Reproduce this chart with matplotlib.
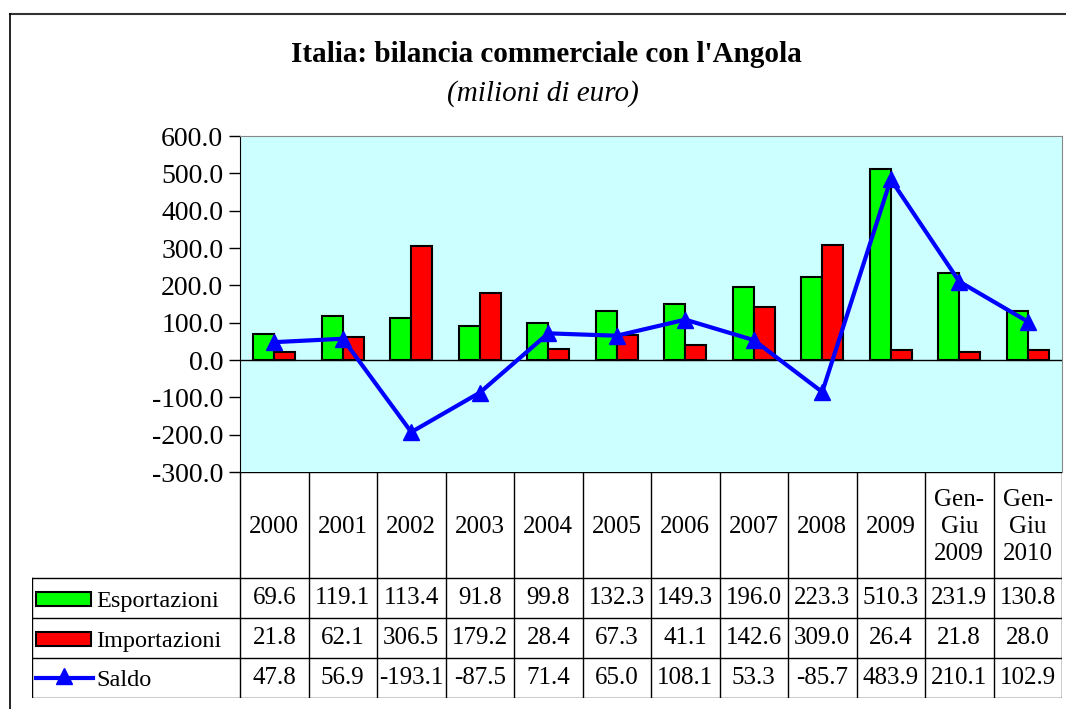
import numpy as np
import matplotlib.pyplot as plt
from matplotlib.lines import Line2D
from matplotlib.patches import Rectangle

plt.rcParams['font.family'] = ['Liberation Serif', 'DejaVu Serif']

# dati
periodi = ['2000', '2001', '2002', '2003', '2004', '2005', '2006', '2007', '2008', '2009',
           'Gen-\nGiu\n2009', 'Gen-\nGiu\n2010']
esportazioni = [69.6, 119.1, 113.4, 91.8, 99.8, 132.3, 149.3, 196.0, 223.3, 510.3, 231.9, 130.8]
importazioni = [21.8, 62.1, 306.5, 179.2, 28.4, 67.3, 41.1, 142.6, 309.0, 26.4, 21.8, 28.0]
saldo = [47.8, 56.9, -193.1, -87.5, 71.4, 65.0, 108.1, 53.3, -85.7, 483.9, 210.1, 102.9]

W, H = 1066, 709
fig = plt.figure(figsize=(W / 100, H / 100), dpi=100)

# cornice esterna (solo lati superiore e sinistro visibili)
fig.add_artist(Line2D([10 / W, 1], [1 - 14 / H, 1 - 14 / H], color='#333333', lw=1.5))
fig.add_artist(Line2D([10 / W, 10 / W], [0, 1 - 14 / H], color='black', lw=1.2))

fig.text(546 / W, 1 - 54 / H, "Italia: bilancia commerciale con l'Angola",
         ha='center', va='center', fontsize=21, fontweight='bold')
fig.text(543 / W, 1 - 94 / H, "(milioni di euro)", ha='center', va='center',
         fontsize=21, style='italic')

# grafico
x0, x1, y0, y1 = 240, 1062, 136, 472
ax = fig.add_axes([x0 / W, 1 - y1 / H, (x1 - x0) / W, (y1 - y0) / H])
ax.set_facecolor('#CCFFFF')
n = len(periodi)
x = np.arange(n)
bw = 0.31
ax.bar(x - bw / 2, esportazioni, bw, color='#00FF00', edgecolor='black', linewidth=1.5, zorder=2)
ax.bar(x + bw / 2, importazioni, bw, color='#FF0000', edgecolor='black', linewidth=1.5, zorder=2)
ax.plot(x, saldo, color='#0000FF', lw=3, marker='^', markersize=11, zorder=3)
ax.axhline(0, color='black', lw=1, zorder=2.5)
ax.set_xlim(-0.5, n - 0.5)
ax.set_ylim(-300, 600)
ax.set_yticks(np.arange(-300, 601, 100))
ax.set_yticklabels([f'{v:.1f}' for v in np.arange(-300, 601, 100)], fontsize=20)
ax.tick_params(axis='y', direction='out', length=8, width=1, pad=4)
ax.set_xticks([])
for s in ['top', 'right']:
    ax.spines[s].set_color('#888888')
ax.spines['left'].set_color('black')
ax.spines['bottom'].set_visible(False)

# tabella dati
tx0, ty1 = 32, 698
tax = fig.add_axes([tx0 / W, 1 - ty1 / H, (x1 - tx0) / W, (ty1 - y1) / H])
tax.set_xlim(tx0, x1)
tax.set_ylim(ty1, y1)
tax.axis('off')
cw = (x1 - x0) / n
rows = [578, 618, 658, 698]
lc = 'black'
for i in range(n + 1):
    xx = x0 + i * cw
    tax.plot([xx, xx], [y1, ty1], color=lc, lw=1)
for r in rows:
    tax.plot([tx0, x1], [r, r], color=lc, lw=1)
tax.plot([tx0, tx0], [rows[0], ty1], color=lc, lw=1)
tax.plot([x0, x1], [y1, y1], color=lc, lw=1)

for i, p in enumerate(periodi):
    tax.text(x0 + (i + 0.5) * cw, (y1 + rows[0]) / 2 + 2, p, ha='center', va='center',
             fontsize=18, linespacing=1.28)

serie = [('Esportazioni', esportazioni), ('Importazioni', importazioni), ('Saldo', saldo)]
for k, (nome, vals) in enumerate(serie):
    ya, yb = rows[k], rows[k + 1]
    yc = (ya + yb) / 2 + 1
    for i, v in enumerate(vals):
        tax.text(x0 + (i + 0.5) * cw, yc - 1, f'{v:.1f}', ha='center', va='center', fontsize=18)
    tax.text(96, yc + 2, nome, ha='left', va='center', fontsize=17.5)

tax.add_patch(Rectangle((36, 592), 55, 14, facecolor='#00FF00', edgecolor='black', lw=1.5))
tax.add_patch(Rectangle((36, 632), 55, 14, facecolor='#FF0000', edgecolor='black', lw=1.5))
tax.plot([36, 93], [678, 678], color='#0000FF', lw=3)
tax.plot([64], [676], marker='^', color='#0000FF', markersize=11)

fig.savefig('out.png', dpi=100)
